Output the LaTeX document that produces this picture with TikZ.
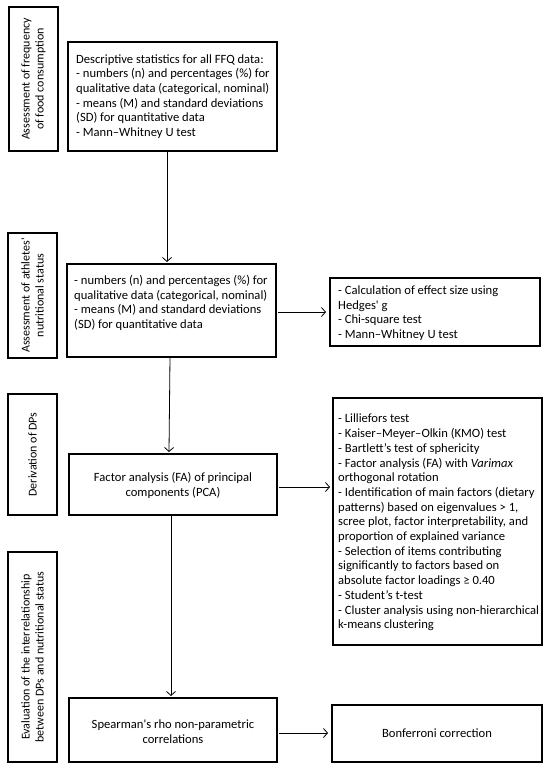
\documentclass[tikz,border=0pt]{standalone}
\usepackage{fontspec}
\setmainfont{Carlito}[Ligatures=TeXOff]
\usetikzlibrary{arrows.meta}
\tikzset{
  box/.style={draw=black, line width=2pt, rectangle, inner sep=0pt, outer sep=0pt},
  txt/.style={inner sep=0pt, align=left, font=\fontsize{12.6}{14.7}\selectfont},
  ctxt/.style={inner sep=0pt, align=center, font=\fontsize{12.6}{14.7}\selectfont},
  side/.style={inner sep=0pt, align=center, rotate=90, font=\fontsize{12}{14}\selectfont},
  arr/.style={line width=0.8pt, -{Straight Barb[length=4pt,width=9pt,line width=0.8pt]}}
}
\begin{document}
\begin{tikzpicture}[x=1pt,y=-1pt]
\useasboundingbox (0,0) rectangle (550,769);
% side boxes
\node[box, minimum width=49pt, minimum height=144pt] (s1) at (33.5,79) {};
\node[box, minimum width=49pt, minimum height=125pt] (s2) at (32.5,295.5) {};
\node[box, minimum width=49pt, minimum height=121pt] (s3) at (32.5,454.5) {};
\node[box, minimum width=49pt, minimum height=210pt] (s4) at (32.5,657) {};
\node[side] (st1) at (s1.center) {Assessment of frequency\\of food consumption};
\node[side] (st2) at (s2.center) {Assessment of athletes'\\nutritional status};
\node[side] (st3) at (s3.center) {Derivation of DPs};
\node[side] (st4) at (s4.center) {Evaluation of the interrelationship\\between DPs and nutritional status};
% main boxes
\node[box, minimum width=209pt, minimum height=109pt] (b1) at (172.5,96.5) {};
\node[box, minimum width=209pt, minimum height=93pt] (b2) at (171.5,310.5) {};
\node[box, minimum width=208pt, minimum height=61pt] (b3) at (173,484.5) {};
\node[box, minimum width=208pt, minimum height=64pt] (b4) at (173,730) {};
\node[txt, anchor=west] (bt1) at ([xshift=8pt]b1.west) {Descriptive statistics for all FFQ data:\\- numbers (n) and percentages (\%) for\\qualitative data (categorical, nominal)\\- means (M) and standard deviations\\(SD) for quantitative data\\- Mann–Whitney U test};
\node[txt, anchor=west] (bt2) at ([xshift=7pt,yshift=7.5pt]b2.west) {- numbers (n) and percentages (\%) for\\qualitative data (categorical, nominal)\\- means (M) and standard deviations\\(SD) for quantitative data};
\node[ctxt] (bt3) at ([yshift=-1pt]b3.center) {Factor analysis (FA) of principal\\components (PCA)};
\node[ctxt] (bt4) at ([yshift=-1.5pt]b4.center) {Spearman's rho non-parametric\\correlations};
% right boxes
\node[box, minimum width=210pt, minimum height=68pt] (r2) at (435,312) {};
\node[box, minimum width=209pt, minimum height=247pt] (r3) at (437.5,521.5) {};
\node[box, minimum width=210pt, minimum height=57pt] (r4) at (437,733.5) {};
\node[txt, anchor=west] (rt2) at ([xshift=8pt,yshift=-1pt]r2.west) {- Calculation of effect size using\\Hedges' g\\- Chi-square test\\- Mann–Whitney U test};
\node[txt, anchor=west] (rt3) at ([xshift=5pt,yshift=-1pt]r3.west) {- Lilliefors test\\- Kaiser–Meyer–Olkin (KMO) test\\- Bartlett’s test of sphericity\\- Factor analysis (FA) with \textit{Varimax}\\orthogonal rotation\\- Identification of main factors (dietary\\patterns) based on eigenvalues > 1,\\scree plot, factor interpretability, and\\proportion of explained variance\\- Selection of items contributing\\significantly to factors based on\\absolute factor loadings ≥ 0.40\\- Student’s t-test\\- Cluster analysis using non-hierarchical\\k-means clustering};
\node[ctxt] (rt4) at (r4.center) {Bonferroni correction};
% connectors
\draw[arr] ([xshift=-5.5pt]b1.south) -- ([xshift=-5.5pt,yshift=2pt]b1.south |- b2.north);
\draw[arr] ([xshift=-1.5pt]b2.south) -- ([xshift=-4pt,yshift=2pt]b3.north);
\draw[arr] ([xshift=-2pt]b3.south) -- ([xshift=-2pt,yshift=2pt]b4.north);
\coordinate (a2) at ([xshift=2pt,yshift=-1.5pt]b2.east);
\coordinate (a3) at ([xshift=2pt,yshift=-2.5pt]b3.east);
\coordinate (a4) at ([xshift=2pt,yshift=-3pt]b4.east);
\draw[arr, shorten >=4pt] (a2) -- (a2 -| r2.west);
\draw[arr, shorten >=3pt] (a3) -- (a3 -| r3.west);
\draw[arr, shorten >=4pt] (a4) -- (a4 -| r4.west);
\end{tikzpicture}
\end{document}
